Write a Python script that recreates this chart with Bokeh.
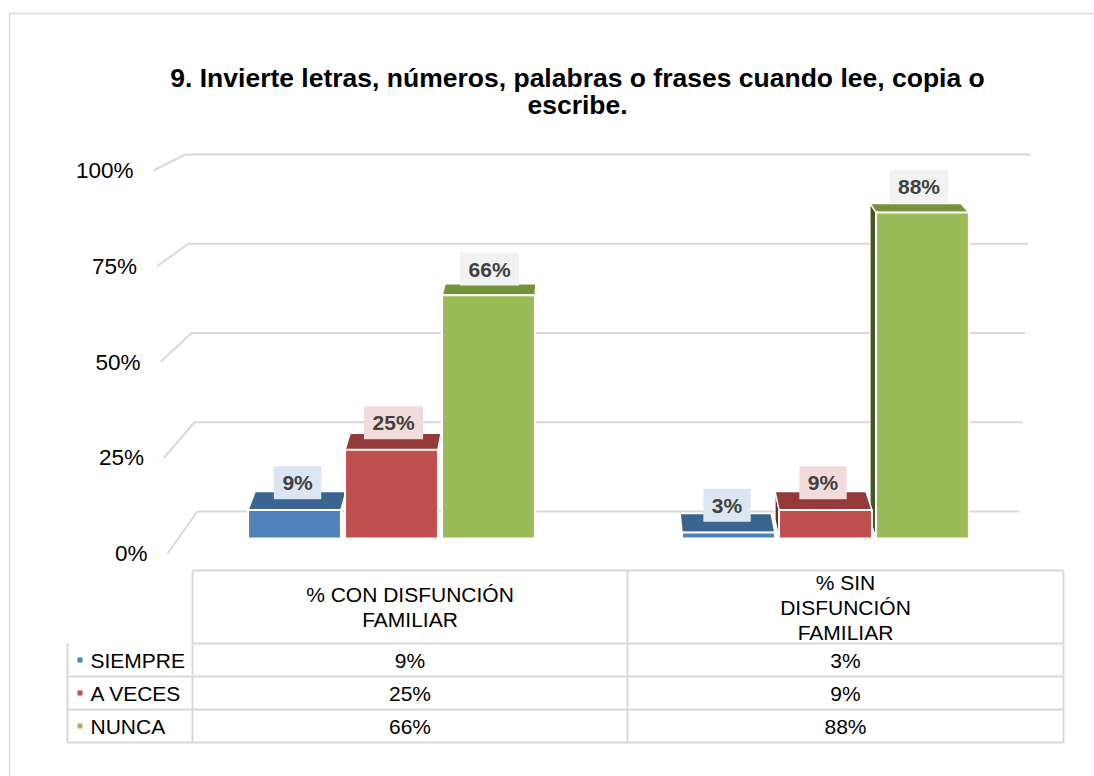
from bokeh.plotting import figure
from bokeh.models import Range1d
from bokeh.core.properties import value
from bokeh.embed import file_html
from bokeh.resources import INLINE

# ---------------- data ----------------
TITLE = "9. Invierte letras, números, palabras o frases cuando lee, copia o\nescribe."
categories = ["% CON DISFUNCIÓN\nFAMILIAR", "% SIN\nDISFUNCIÓN\nFAMILIAR"]
series = ["SIEMPRE", "A VECES", "NUNCA"]
siempre = [9, 3]
a_veces = [25, 9]
nunca = [66, 88]
y_ticks = [0, 25, 50, 75, 100]
y_tick_labels = ["0%", "25%", "50%", "75%", "100%"]

values = [siempre, a_veces, nunca]

# ---------------- styles ----------------
FRONT = ["#4F81BD", "#C0504D", "#9BBB59"]
TOP = ["#3C6491", "#953A38", "#76933C"]
SIDE = ["#2E4B70", "#6E2A28", "#435623"]
LABEL_BG = ["#DCE6F2", "#F2DCDB", "#F2F2F2"]
GRID = "#D9D9D9"
FONT = value("Liberation Sans")

# ---------------- layout (page pixels) ----------------
W, H, M = 1094, 776, 0
X0, XU = 391.0, 434.0          # category 0 centre, pixels per category
Y0F, KF = 543.3, 3.765         # front plane of bars
FLOOR_PX = 538.0
VX, SHRINK = 588.0, 0.0208     # horizontal vanishing point for depth
PLANES = {"back": (523.9, 3.647), "wall": (511.0, 3.57),
          "stub": (553.0, 3.83), "label": (516.0, 3.75)}
WALL_L = (197.0, -0.12)
WALL_R = (1019.0, 0.11)
STUB_X = (167.0, -0.14)
OFFS = [-0.2235, 0.0, 0.2235]
BW = 0.214


def ux(px):
    return (px - X0) / XU


def pxx(u):
    return X0 + XU * u


def uy(py):
    return (Y0F - py) / KF


def plane(v, name):
    y0, k = PLANES[name]
    return uy(y0 - k * v)


def back_x(u):
    px = pxx(u)
    return ux(px - SHRINK * (px - VX))


def lin(v, spec):
    return spec[0] + spec[1] * v


def text_w(s, size):
    return sum(0.556 if c.isdigit() else 0.889 for c in s) * size


p = figure(width=W, height=H,
           x_range=Range1d(ux(M), ux(M + W)),
           y_range=Range1d(uy(M + H), uy(M)),
           x_axis_type=None, y_axis_type=None,
           toolbar_location=None, output_backend="svg", min_border=0)
p.outline_line_color = None
p.extra_x_ranges = {"px": Range1d(M, M + W)}
p.extra_y_ranges = {"px": Range1d(M + H, M)}
PX = dict(x_range_name="px", y_range_name="px")

# chart-area frame
p.segment(x0=[9, 9], y0=[13, 13], x1=[9, M + W], y1=[M + H, 13],
          line_color=GRID, line_width=1.5, **PX)

# title
tl = TITLE.split("\n")
p.text(x=[577] * len(tl), y=[77 + 27 * k for k in range(len(tl))], text=tl,
       text_font=FONT, text_font_size="26.5px", text_font_style="bold",
       text_color="#000000", text_align="center", text_baseline="middle", **PX)

# 3D wall grid
gx, gy = [], []
for v in y_ticks:
    gx.append([ux(lin(v, STUB_X)), ux(lin(v, WALL_L)), ux(lin(v, WALL_R))])
    gy.append([plane(v, "stub"), plane(v, "wall"), plane(v, "wall")])
p.multi_line(xs=gx, ys=gy, line_color=GRID, line_width=2)

p.text(x=[ux(lin(v, STUB_X) - 20) for v in y_ticks],
       y=[plane(v, "stub") for v in y_ticks], text=y_tick_labels,
       text_font=FONT, text_font_size="22.5px", text_color="#000000",
       text_align="right", text_baseline="middle")

floor_u = uy(FLOOR_PX)

# side faces
for i, vals in enumerate(values):
    sx, sy = [], []
    for j, v in enumerate(vals):
        xl = j + OFFS[i] - BW / 2
        if pxx(xl) > VX:
            xb = back_x(xl)
            sx.append([xl, xb, xb, xl])
            sy.append([v, plane(v, "back"), plane(0, "back") + floor_u, floor_u])
    if sx:
        p.patches(xs=sx, ys=sy, fill_color=SIDE[i], line_color="white", line_width=1)

# top faces and fronts
for i, vals in enumerate(values):
    tx, ty = [], []
    for j, v in enumerate(vals):
        xl = j + OFFS[i] - BW / 2
        xr = j + OFFS[i] + BW / 2
        tx.append([xl, xr, back_x(xr), back_x(xl)])
        ty.append([v, v, plane(v, "back"), plane(v, "back")])
    p.patches(xs=tx, ys=ty, fill_color=TOP[i], line_color="white", line_width=1.5)
    p.vbar(x=[j + OFFS[i] for j in range(len(vals))], width=BW, top=vals,
           bottom=floor_u, fill_color=FRONT[i], line_color="white", line_width=2)

# value labels
for i, vals in enumerate(values):
    lx, ly, lt, lw = [], [], [], []
    for j, v in enumerate(vals):
        xc = j + OFFS[i]
        lx.append((xc + back_x(xc)) / 2)
        ly.append(plane(v, "label"))
        lt.append(f"{v}%")
        lw.append(text_w(f"{v}%", 21) + 17)
    p.rect(x=lx, y=ly, width=lw, height=33, width_units="screen",
           height_units="screen", fill_color=LABEL_BG[i], line_color=None)
    p.text(x=lx, y=ly, text=lt, text_font=FONT, text_font_size="21px",
           text_font_style="bold", text_color="#404040",
           text_align="center", text_baseline="middle")

# ---------------- data table ----------------
T_TOP, T_HEAD, T_BOT = 570, 643, 742
COLS = [67, 192, 627, 1063]
row_h = (T_BOT - T_HEAD) / len(series)
rows = [T_HEAD + row_h * k for k in range(len(series) + 1)]
hx0 = [COLS[1]] + [COLS[0]] * len(series)
hx1 = [COLS[3]] * (len(series) + 1)
p.segment(x0=[COLS[1]] + hx0, y0=[T_TOP] + rows, x1=[COLS[3]] + hx1,
          y1=[T_TOP] + rows, line_color=GRID, line_width=2, **PX)
p.segment(x0=COLS, y0=[T_HEAD, T_TOP, T_TOP, T_TOP], x1=COLS,
          y1=[T_BOT] * 4, line_color=GRID, line_width=2, **PX)

col_c = [(COLS[1] + COLS[2]) / 2, (COLS[2] + COLS[3]) / 2]
head_c = (T_TOP + T_HEAD) / 2
hx, hy, ht = [], [], []
for j, cat in enumerate(categories):
    lines = cat.split("\n")
    n = len(lines)
    for k, ln in enumerate(lines):
        hx.append(col_c[j])
        hy.append(head_c + (k - (n - 1) / 2) * 25)
        ht.append(ln)
p.text(x=hx, y=hy, text=ht, text_font=FONT, text_font_size="21px",
       text_color="#000000", text_align="center", text_baseline="middle", **PX)

row_c = [(rows[k] + rows[k + 1]) / 2 for k in range(len(series))]
p.rect(x=[79.5] * len(series), y=row_c, width=5, height=5, width_units="screen",
       height_units="screen", fill_color=FRONT, line_color=None, **PX)
p.text(x=[90] * len(series), y=row_c, text=series, text_font=FONT,
       text_font_size="21px", text_color="#000000", text_align="left",
       text_baseline="middle", **PX)
vx_, vy_, vt_ = [], [], []
for i, vals in enumerate(values):
    for j, v in enumerate(vals):
        vx_.append(col_c[j])
        vy_.append(row_c[i])
        vt_.append(f"{v}%")
p.text(x=vx_, y=vy_, text=vt_, text_font=FONT, text_font_size="21px",
       text_color="#000000", text_align="center", text_baseline="middle", **PX)

open("out.html", "w").write(file_html(p, INLINE))
